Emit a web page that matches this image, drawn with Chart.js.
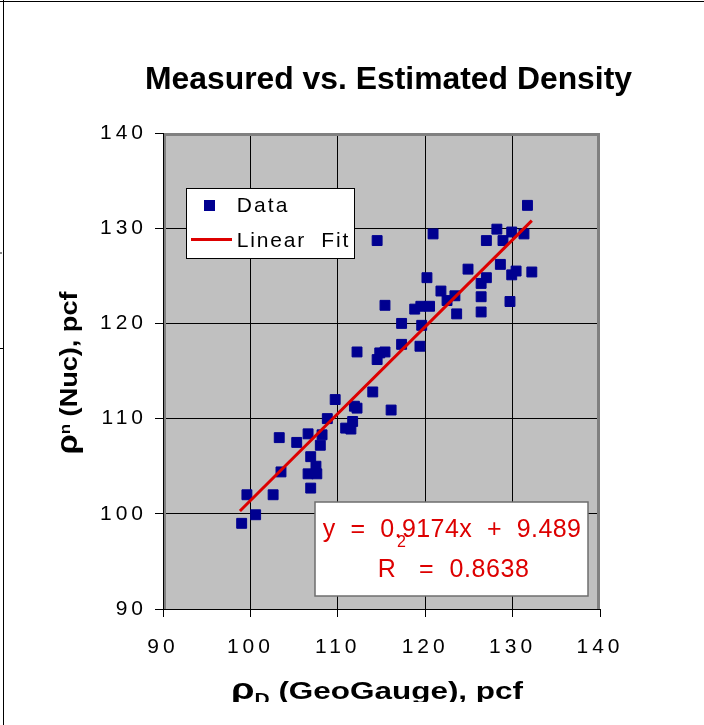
<!DOCTYPE html>
<html>
<head>
<meta charset="utf-8">
<script src="https://cdn.jsdelivr.net/npm/chart.js@4/dist/chart.umd.min.js"></script>
<style>
  html, body { margin: 0; padding: 0; background: #fff; }
  #densityChart { display: block; }
</style>
</head>
<body>
<canvas id="densityChart" width="704" height="725"></canvas>
<script>
"strict";

// GeoGauge density (x) vs nuclear gauge density (y), pcf
const geoGauge = [
  99.0, 100.6, 99.6, 102.6, 103.5, 103.3, 105.3, 106.6, 108.2, 108.0,
  106.9, 107.5, 106.6, 107.6, 106.9, 108.8, 109.7, 110.9, 111.5, 111.7,
  111.9, 112.2, 114.0, 116.1, 112.2, 114.5, 114.8, 115.4, 115.4, 114.5,
  117.3, 117.3, 118.8, 119.5, 120.5, 119.6, 119.4, 120.2, 120.9, 121.8,
  122.5, 123.4, 123.6, 124.9, 127.0, 126.4, 126.4, 126.4, 127.0, 128.2,
  128.6, 128.9, 129.9, 129.7, 129.9, 130.4, 131.3, 131.7, 132.2
];
const nuclear = [
  99.0, 99.9, 102.0, 102.0, 104.4, 108.0, 107.5, 108.4, 108.3, 107.2,
  106.0, 105.0, 104.2, 104.2, 102.7, 110.0, 112.0, 109.0, 108.9, 109.7,
  111.3, 111.1, 112.8, 110.9, 117.0, 116.2, 116.9, 117.0, 121.9, 128.7,
  120.0, 117.8, 121.5, 121.8, 121.8, 119.8, 117.6, 124.8, 129.4, 123.4,
  122.4, 122.9, 121.0, 125.7, 124.8, 124.2, 122.8, 121.2, 128.7, 129.9,
  126.2, 128.7, 129.6, 122.3, 125.1, 125.5, 129.4, 132.4, 125.4
];

// ends of the fitted line as drawn
const fitX = [98.8, 132.2];
const fitY = [100.3, 130.8];

const axisTicks = [90, 100, 110, 120, 130, 140];

const FONT = "'Liberation Sans', Arial, sans-serif";
const NAVY = "#000090";
const RED = "#dd0000";

function drawRun(ctx, parts, x, y, width, color) {
  ctx.save();
  ctx.fillStyle = color;
  ctx.textAlign = "left";
  ctx.textBaseline = "alphabetic";
  ctx.letterSpacing = "0px";
  let natural = 0;
  parts.forEach((p) => {
    ctx.font = p.font;
    natural += ctx.measureText(p.text).width;
  });
  ctx.translate(x, y);
  ctx.scale(width / natural, 1);
  let cx = 0;
  parts.forEach((p) => {
    ctx.font = p.font;
    ctx.fillText(p.text, cx, p.dy || 0);
    cx += ctx.measureText(p.text).width;
  });
  ctx.restore();
}

function drawSpaced(ctx, text, x, y, width, font, color) {
  ctx.save();
  ctx.font = font;
  ctx.textAlign = "left";
  ctx.textBaseline = "alphabetic";
  ctx.letterSpacing = "0px";
  const w = ctx.measureText(text).width;
  const ls = text.length > 1 ? (width - w) / (text.length - 1) : 0;
  ctx.letterSpacing = ls + "px";
  ctx.fillStyle = color;
  ctx.fillText(text, x, y);
  ctx.restore();
}

const decor = {
  id: "decor",
  beforeDraw(chart) {
    const { ctx, chartArea: a } = chart;
    ctx.save();
    ctx.fillStyle = "#fff";
    ctx.fillRect(0, 0, chart.width, chart.height);
    // outer frame
    ctx.fillStyle = "#000";
    ctx.fillRect(3, 0, 1, chart.height);
    ctx.fillRect(0, 1, chart.width, 1);
    ctx.fillRect(0, 348, 3, 1);
    ctx.fillStyle = "#888";
    ctx.fillRect(0, 252, 2, 2);
    // plot background
    ctx.fillStyle = "#c0c0c0";
    ctx.fillRect(a.left, a.top, a.right - a.left, a.bottom - a.top);
    ctx.restore();
    ctx.letterSpacing = "4px";
  },
  beforeDatasetsDraw(chart) {
    const { ctx, chartArea: a } = chart;
    ctx.save();
    ctx.fillStyle = "#808080";
    ctx.fillRect(a.left + 1, a.top, a.right - a.left - 1, 3);
    ctx.fillRect(a.right - 3, a.top, 3, a.bottom - a.top);
    ctx.fillRect(a.left + 1, a.top, 2, a.bottom - a.top);
    ctx.restore();
  },
  afterDraw(chart) {
    const ctx = chart.ctx;
    ctx.letterSpacing = "0px";

    // title
    drawRun(ctx, [{ text: "Measured vs. Estimated Density", font: "bold 32px " + FONT }],
      145, 89, 487, "#000");

    // y axis title
    ctx.save();
    ctx.translate(77, 373);
    ctx.rotate(-Math.PI / 2);
    drawRun(ctx, [
      { text: "ρ", font: "bold 29px " + FONT },
      { text: "n", font: "bold 15px " + FONT, dy: -7 },
      { text: " (Nuc), pcf", font: "bold 24px " + FONT }
    ], -81.5, 0, 163, "#000");
    ctx.restore();

    // x axis title, cut off at the bottom like the original
    ctx.save();
    ctx.beginPath();
    ctx.rect(0, 0, chart.width, 702);
    ctx.clip();
    drawRun(ctx, [
      { text: "ρ", font: "bold 29px " + FONT },
      { text: "D", font: "bold 16px " + FONT, dy: 6 },
      { text: " (GeoGauge), pcf", font: "bold 24px " + FONT }
    ], 231, 699, 292, "#000");
    ctx.restore();

    // legend
    ctx.save();
    ctx.fillStyle = "#fff";
    ctx.fillRect(187, 189, 167, 69);
    ctx.strokeStyle = "#000";
    ctx.lineWidth = 1;
    ctx.strokeRect(186.5, 188.5, 168, 70);
    ctx.fillStyle = NAVY;
    ctx.fillRect(204, 200, 11, 11);
    ctx.fillStyle = RED;
    ctx.fillRect(191, 238, 41, 3);
    ctx.restore();
    drawSpaced(ctx, "Data", 236.7, 211.7, 50.7, "21px " + FONT, "#000");
    drawSpaced(ctx, "Linear  Fit", 236.7, 246.7, 111.6, "21px " + FONT, "#000");

    // regression label
    ctx.save();
    ctx.fillStyle = "#fff";
    ctx.fillRect(315, 502, 273, 94);
    ctx.strokeStyle = "#6e6e6e";
    ctx.lineWidth = 1.5;
    ctx.strokeRect(315, 502, 273, 94);
    ctx.restore();
    drawSpaced(ctx, "y  =  0.9174x  +  9.489", 322.7, 537.3, 258.3, "25px " + FONT, RED);
    drawSpaced(ctx, "R   =  0.8638", 377.7, 576.7, 151.3, "25px " + FONT, RED);
    drawSpaced(ctx, "2", 397, 546.7, 9, "16px " + FONT, RED);
  }
};

const points = geoGauge.map((x, i) => ({ x: x, y: nuclear[i] }));
const fitLine = fitX.map((x, i) => ({ x: x, y: fitY[i] }));

const edgeColor = (c) => (c.tick && c.tick.value === axisTicks[axisTicks.length - 1] ? "rgba(0,0,0,0)" : "#000");

const tickFont = { family: FONT, size: 21 };

const ctx = document.getElementById("densityChart").getContext("2d");

const densityChart = new Chart(ctx, {
  type: "scatter",
  data: {
    datasets: [
      {
        label: "Data",
        data: points,
        pointStyle: "rect",
        pointRadius: 7,
        pointHoverRadius: 7,
        pointBackgroundColor: NAVY,
        pointBorderColor: NAVY,
        pointBorderWidth: 1,
        order: 2
      },
      {
        label: "Linear  Fit",
        data: fitLine,
        showLine: true,
        borderColor: RED,
        borderWidth: 3,
        pointRadius: 0,
        pointHoverRadius: 0,
        fill: false,
        order: 1
      }
    ]
  },
  options: {
    responsive: false,
    animation: false,
    devicePixelRatio: 1,
    events: [],
    layout: { padding: { top: 133, right: 104, bottom: 0, left: 0 } },
    plugins: {
      legend: { display: false },
      title: { display: false },
      tooltip: { enabled: false }
    },
    scales: {
      x: {
        type: "linear",
        min: axisTicks[0],
        max: axisTicks[axisTicks.length - 1],
        afterBuildTicks: (s) => { s.ticks = axisTicks.map((v) => ({ value: v })); },
        ticks: { font: tickFont, color: "#000", padding: 18, maxRotation: 0, autoSkip: false },
        grid: { color: edgeColor, tickColor: "#000", tickLength: 8, lineWidth: 1 },
        border: { color: "#000", width: 1 },
        afterFit: (s) => { s.height = 116; }
      },
      y: {
        type: "linear",
        min: axisTicks[0],
        max: axisTicks[axisTicks.length - 1],
        afterBuildTicks: (s) => { s.ticks = axisTicks.map((v) => ({ value: v })); },
        ticks: { font: tickFont, color: "#000", padding: 8, autoSkip: false },
        grid: { color: edgeColor, tickColor: "#000", tickLength: 8, lineWidth: 1 },
        border: { color: "#000", width: 1 },
        afterFit: (s) => { s.width = 163; }
      }
    }
  },
  plugins: [decor]
});
</script>
</body>
</html>
